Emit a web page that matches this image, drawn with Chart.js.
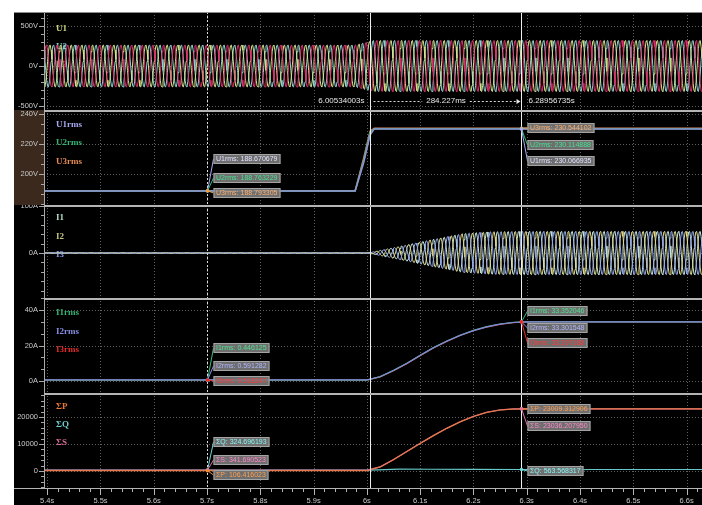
<!DOCTYPE html>
<html lang="en">
<head>
    <meta charset="UTF-8">
    <title>Recorder - voltage step</title>
    <script src="https://cdn.jsdelivr.net/npm/chart.js"></script>
    <style>
        body {
            margin: 0;
            background: #fff;
            width: 702px;
            height: 505px;
            overflow: hidden;
            position: relative;
        }
        .scope {
            position: absolute;
            left: 14px;
            top: 12px;
            width: 688px;
            height: 493px;
            background: #000;
        }
        .panel {
            position: absolute;
            left: 0;
        }
        canvas {
            display: block;
        }
    </style>
</head>
<body>
<div class="scope">
    <div class="panel" style="top:0"><canvas id="voltChart" width="688" height="98"></canvas></div>
    <div class="panel" style="top:98px"><canvas id="urmsChart" width="688" height="95"></canvas></div>
    <div class="panel" style="top:193px"><canvas id="currChart" width="688" height="93"></canvas></div>
    <div class="panel" style="top:286px"><canvas id="irmsChart" width="688" height="95"></canvas></div>
    <div class="panel" style="top:381px"><canvas id="powerChart" width="688" height="112"></canvas></div>
</div>

<script>
    // time axis (s)
    const xMin = 5.394, xMax = 6.629;
    const timeTicks = [5.4, 5.5, 5.6, 5.7, 5.8, 5.9, 6.0, 6.1, 6.2, 6.3, 6.4, 6.5, 6.6];
    const cursorA = 5.7;
    const cursorStart = 6.00534003;
    const cursorB = 6.28956735;

    // waveforms: peak envelope
    const mainsHz = 50;
    const voltEnvTime = [5.394, 5.978, 6.012, 6.629];
    const voltEnv = [267, 267, 326, 326];
    const currEnvTime = [5.394, 6.005, 6.057, 6.118, 6.18, 6.23, 6.3, 6.629];
    const currEnv = [0.7, 0.7, 13, 28, 42, 46, 47, 47];

    // U rms (V)
    const urmsTime = [5.394, 5.978, 5.994, 6.006, 6.014, 6.629];
    const u1rms = [188.67, 188.67, 207.5, 226.0, 230.07, 230.07];
    const u2rms = [188.72, 188.72, 209.0, 227.5, 230.11, 230.11];
    const u3rms = [188.79, 188.79, 210.5, 228.5, 230.54, 230.54];

    // I rms (A)
    const irmsTime = [5.394, 6.0, 6.025, 6.05, 6.075, 6.1, 6.125, 6.15, 6.175, 6.2, 6.225, 6.25, 6.275, 6.3, 6.629];
    const i1rms = [0.45, 0.45, 2.5, 6.0, 10.0, 14.5, 18.8, 22.5, 25.8, 28.5, 30.6, 32.1, 33.0, 33.35, 33.35];
    const i2rms = [0.59, 0.59, 2.4, 5.9, 9.9, 14.4, 18.7, 22.4, 25.7, 28.4, 30.5, 32.0, 32.95, 33.3, 33.3];
    const i3rms = [0.52, 0.52, 2.3, 5.8, 9.8, 14.3, 18.6, 22.3, 25.6, 28.3, 30.4, 31.9, 32.9, 33.3, 33.3];

    // power sums
    const sumP = [106, 106, 1500, 4200, 7200, 10200, 13100, 15800, 18200, 20200, 21700, 22600, 22950, 23010, 23010];
    const sumS = [342, 342, 1520, 4250, 7250, 10250, 13150, 15850, 18250, 20250, 21750, 22650, 23000, 23036, 23036];
    const sumQTime = [5.394, 6.0, 6.02, 6.06, 6.12, 6.2, 6.29, 6.32, 6.34, 6.36, 6.38, 6.42, 6.629];
    const sumQ = [325, 325, 420, 700, 650, 600, 564, 560, 380, 720, 450, 560, 560];

    // cursor readouts
    const readUA = [188.670679, 188.763229, 188.793305];
    const readUB = [230.066935, 230.114888, 230.544102];
    const readIA = [0.446125, 0.591282, 0.518247];
    const readIB = [33.352046, 33.301548, 33.297188];
    const readPowA = [106.416023, 324.696193, 341.690523];    // P, Q, S
    const readPowB = [23009.312906, 563.568317, 23036.207950];

    const tickFont = { family: 'Liberation Sans', size: 7.5 };

    function series(times, values) {
        return times.map((t, i) => ({ x: t, y: values[i] }));
    }

    function envelopeAt(times, peaks, t) {
        for (let i = 1; i < times.length; i++) {
            if (t <= times[i]) {
                const f = (t - times[i - 1]) / (times[i] - times[i - 1]);
                return peaks[i - 1] + f * (peaks[i] - peaks[i - 1]);
            }
        }
        return peaks[peaks.length - 1];
    }

    // one trace per phase, 12 samples per mains cycle
    function phaseWave(times, peaks, shiftDeg) {
        const perSec = mainsHz * 12;
        const n = Math.round((xMax - xMin) * perSec);
        const pts = [];
        for (let k = 0; k <= n; k++) {
            const t = xMin + k / perSec;
            const a = envelopeAt(times, peaks, t);
            pts.push({ x: t, y: a * Math.sin(2 * Math.PI * mainsHz * t + shiftDeg * Math.PI / 180) });
        }
        return pts;
    }

    function formatTime(v) {
        return (Math.round(v * 10) / 10) + 's';
    }

    function hline(ctx, x1, x2, y) {
        ctx.beginPath(); ctx.moveTo(x1, y); ctx.lineTo(x2, y); ctx.stroke();
    }
    function vline(ctx, x, y1, y2) {
        ctx.beginPath(); ctx.moveTo(x, y1); ctx.lineTo(x, y2); ctx.stroke();
    }

    function drawReadout(ctx, xs, ys, cursorT, r) {
        const cx = Math.round(xs.getPixelForValue(cursorT)) + 0.5;
        const py = ys.getPixelForValue(r.value);
        const text = r.label + ': ' + r.value.toFixed(6);
        ctx.font = '7px "Liberation Sans"';
        const w = Math.ceil(ctx.measureText(text).width) + 5;
        const bx = cx + 6, by = r.top;
        ctx.setLineDash([]);
        ctx.strokeStyle = r.line;
        ctx.lineWidth = 1;
        ctx.beginPath(); ctx.moveTo(cx, py); ctx.lineTo(bx, by + 5); ctx.stroke();
        ctx.fillStyle = 'rgba(122,122,122,0.9)';
        ctx.fillRect(bx, by, w, 10);
        ctx.strokeStyle = '#a4a4a4';
        ctx.strokeRect(bx + 0.5, by + 0.5, w - 1, 9);
        ctx.fillStyle = r.text;
        ctx.textBaseline = 'middle';
        ctx.textAlign = 'left';
        ctx.fillText(text, bx + 2.5, by + 5.5);
        ctx.fillStyle = r.line;
        ctx.beginPath(); ctx.arc(cx, py, 1.8, 0, Math.PI * 2); ctx.fill();
    }

    function scopePlugin(cfg) {
        return {
            id: 'scope_' + cfg.id,
            beforeDraw(chart) {
                const { ctx, width, height, chartArea: a } = chart;
                ctx.save();
                ctx.fillStyle = '#000';
                ctx.fillRect(0, 0, width, height);
                if (cfg.axisFill) {
                    ctx.fillStyle = cfg.axisFill;
                    ctx.fillRect(0, 0, a.left, a.bottom);
                }
                ctx.restore();
            },
            beforeDatasetsDraw(chart) {
                const { ctx, chartArea: a, scales: { x, y } } = chart;
                ctx.save();
                ctx.strokeStyle = '#5e5e5e';
                ctx.lineWidth = 1;
                ctx.setLineDash([1, 2]);
                timeTicks.forEach(t => vline(ctx, Math.round(x.getPixelForValue(t)) + 0.5, a.top, a.bottom));
                cfg.yMajor.forEach(v => hline(ctx, a.left, a.right, Math.round(y.getPixelForValue(v)) + 0.5));
                ctx.setLineDash([]);
                ctx.font = 'bold 9px "Liberation Serif"';
                ctx.textBaseline = 'middle';
                cfg.names.forEach(n => {
                    ctx.fillStyle = n.color;
                    ctx.fillText(n.text, 42, n.y);
                });
                ctx.restore();
            },
            afterDatasetsDraw(chart) {
                const { ctx, chartArea: a, scales: { x, y } } = chart;
                ctx.save();
                // cursors
                ctx.lineWidth = 1;
                ctx.strokeStyle = '#dcdcdc';
                ctx.setLineDash([2, 2]);
                vline(ctx, Math.round(x.getPixelForValue(cursorA)) + 0.5, a.top, a.bottom);
                ctx.setLineDash([]);
                ctx.strokeStyle = '#eeeeee';
                vline(ctx, Math.round(x.getPixelForValue(cursorStart)) + 0.5, a.top, a.bottom);
                vline(ctx, Math.round(x.getPixelForValue(cursorB)) + 0.5, a.top, a.bottom);

                // readout boxes
                (cfg.readA || []).forEach(r => drawReadout(ctx, x, y, cursorA, r));
                (cfg.readB || []).forEach(r => drawReadout(ctx, x, y, cursorB, r));

                // time measurement between cursors
                if (cfg.timeReadout) {
                    const x1 = Math.round(x.getPixelForValue(cursorStart)) + 0.5;
                    const x2 = Math.round(x.getPixelForValue(cursorB)) + 0.5;
                    const ty = cfg.timeReadout;
                    ctx.font = '8px "Liberation Sans"';
                    ctx.fillStyle = '#e8e8e8';
                    ctx.textBaseline = 'middle';
                    ctx.textAlign = 'right';
                    ctx.fillText(cursorStart.toFixed(8) + 's', x1 - 6, ty);
                    ctx.textAlign = 'left';
                    ctx.fillText(cursorB.toFixed(8) + 's', x2 + 7, ty);
                    const mid = (x1 + x2) / 2;
                    const dur = ((cursorB - cursorStart) * 1000).toFixed(3) + 'ms';
                    const tw = ctx.measureText(dur).width;
                    ctx.textAlign = 'center';
                    ctx.fillText(dur, mid, ty);
                    ctx.strokeStyle = '#d8d8d8';
                    ctx.setLineDash([2, 2]);
                    hline(ctx, x1 + 3, mid - tw / 2 - 4, Math.round(ty) + 0.5);
                    hline(ctx, mid + tw / 2 + 4, x2 - 4, Math.round(ty) + 0.5);
                    ctx.setLineDash([]);
                    ctx.fillStyle = '#e8e8e8';
                    ctx.beginPath();
                    ctx.moveTo(x2 - 1, Math.round(ty) + 0.5);
                    ctx.lineTo(x2 - 5, Math.round(ty) - 2);
                    ctx.lineTo(x2 - 5, Math.round(ty) + 3);
                    ctx.closePath();
                    ctx.fill();
                }

                // left axis with major / minor ticks
                ctx.strokeStyle = '#a8a8a8';
                vline(ctx, a.left + 0.5, a.top, a.bottom);
                const first = Math.ceil((y.min - cfg.minorBase) / cfg.minorStep);
                for (let k = first; cfg.minorBase + k * cfg.minorStep <= y.max; k++) {
                    const v = cfg.minorBase + k * cfg.minorStep;
                    const py = Math.round(y.getPixelForValue(v)) + 0.5;
                    hline(ctx, a.left - 3, a.left, py);
                }
                cfg.yMajor.forEach(v => {
                    const py = Math.round(y.getPixelForValue(v)) + 0.5;
                    hline(ctx, a.left - 5, a.left, py);
                });

                // time axis (bottom panel only)
                if (cfg.showTime) {
                    ctx.strokeStyle = '#b4b4b4';
                    hline(ctx, 0, a.right, a.bottom + 0.5);
                    for (let k = 0; timeTicks[0] + k * 0.02 <= xMax; k++) {
                        const px = Math.round(x.getPixelForValue(timeTicks[0] + k * 0.02)) + 0.5;
                        vline(ctx, px, a.bottom, a.bottom + (k % 5 === 0 ? 7 : 4));
                    }
                }

                // panel separator
                if (cfg.topBorder) {
                    ctx.strokeStyle = cfg.topBorder;
                    ctx.lineWidth = cfg.topWidth;
                    hline(ctx, cfg.topFrom, a.right, cfg.topWidth / 2);
                }
                ctx.restore();
            }
        };
    }

    function makePanel(cfg) {
        return new Chart(document.getElementById(cfg.id), {
            type: 'line',
            data: { datasets: cfg.datasets },
            options: {
                responsive: false,
                animation: false,
                devicePixelRatio: 1,
                events: [],
                layout: { padding: 0 },
                plugins: { legend: { display: false }, tooltip: { enabled: false } },
                elements: { point: { radius: 0 }, line: { tension: 0, borderWidth: 1 } },
                scales: {
                    x: {
                        type: 'linear', min: xMin, max: xMax,
                        display: !!cfg.showTime,
                        grid: { display: false, drawTicks: false },
                        border: { display: false },
                        afterBuildTicks: s => { s.ticks = timeTicks.map(v => ({ value: v })); },
                        afterFit: s => { s.height = cfg.showTime ? 17 : 0; s.paddingLeft = 0; s.paddingRight = 0; },
                        ticks: {
                            color: '#c8c8c8', font: tickFont, padding: 8,
                            maxRotation: 0, autoSkip: false,
                            callback: v => formatTime(v)
                        }
                    },
                    y: {
                        type: 'linear', min: cfg.yMin, max: cfg.yMax,
                        grid: { display: false, drawTicks: false },
                        border: { display: false },
                        afterBuildTicks: s => { s.ticks = cfg.yMajor.map(v => ({ value: v })); },
                        afterFit: s => { s.width = 30; s.paddingTop = 0; s.paddingBottom = 0; },
                        ticks: {
                            color: '#c8c8c8', font: tickFont, padding: 6, autoSkip: false,
                            callback: v => v + cfg.unit
                        }
                    }
                }
            },
            plugins: [scopePlugin(cfg)]
        });
    }

    // panel 1: phase voltages
    makePanel({
        id: 'voltChart', yMin: -550, yMax: 675, unit: 'V',
        yMajor: [500, 0, -500], minorBase: 0, minorStep: 100,
        topBorder: '#8c8c8c', topWidth: 1, topFrom: 0,
        timeReadout: 89,
        names: [
            { text: 'U1', color: '#c9d27a', y: 17 },
            { text: 'U2', color: '#7fc9c4', y: 35 },
            { text: 'U3', color: '#e0406e', y: 53 }
        ],
        datasets: [
            { data: phaseWave(voltEnvTime, voltEnv, 120), borderColor: '#e0306e' },
            { data: phaseWave(voltEnvTime, voltEnv, 0), borderColor: '#d4e38a' },
            { data: phaseWave(voltEnvTime, voltEnv, -120), borderColor: '#93d4d4' }
        ]
    });

    // panel 2: U rms
    makePanel({
        id: 'urmsChart', yMin: 179.33, yMax: 242.67, unit: 'V',
        yMajor: [240, 220, 200], minorBase: 180, minorStep: 20 / 3,
        axisFill: '#3a291c',
        topBorder: '#b4b4b4', topWidth: 2, topFrom: 30,
        names: [
            { text: 'U1rms', color: '#a6aaf0', y: 15 },
            { text: 'U2rms', color: '#35b474', y: 33 },
            { text: 'U3rms', color: '#e38a55', y: 52 }
        ],
        readA: [
            { label: 'U1rms', value: readUA[0], top: 44, line: '#a8acf4', text: '#e0e2ff' },
            { label: 'U2rms', value: readUA[1], top: 63, line: '#30c078', text: '#48e090' },
            { label: 'U3rms', value: readUA[2], top: 78, line: '#f0a040', text: '#ffb070' }
        ],
        readB: [
            { label: 'U3rms', value: readUB[2], top: 13, line: '#f0a040', text: '#ffb070' },
            { label: 'U2rms', value: readUB[1], top: 30, line: '#30c078', text: '#48e090' },
            { label: 'U1rms', value: readUB[0], top: 46, line: '#a8acf4', text: '#e0e2ff' }
        ],
        datasets: [
            { data: series(urmsTime, u1rms), borderColor: '#8e92d8', borderWidth: 1.5 },
            { data: series(urmsTime, u2rms), borderColor: '#3aa870', borderWidth: 1.5 },
            { data: series(urmsTime, u3rms), borderColor: '#d8885a', borderWidth: 1.5 }
        ]
    });

    // panel 3: phase currents
    makePanel({
        id: 'currChart', yMin: -95.7, yMax: 102.1, unit: 'A',
        yMajor: [100, 0], minorBase: 0, minorStep: 20,
        topBorder: '#b4b4b4', topWidth: 2, topFrom: 30,
        names: [
            { text: 'I1', color: '#b4dcc8', y: 13 },
            { text: 'I2', color: '#c2c284', y: 32 },
            { text: 'I3', color: '#8898e6', y: 50 }
        ],
        datasets: [
            { data: phaseWave(currEnvTime, currEnv, -120), borderColor: '#94a8ec' },
            { data: phaseWave(currEnvTime, currEnv, 120), borderColor: '#e0d88a' },
            { data: phaseWave(currEnvTime, currEnv, 0), borderColor: '#c4e6e0' }
        ]
    });

    // panel 4: I rms
    makePanel({
        id: 'irmsChart', yMin: -6.76, yMax: 46.76, unit: 'A',
        yMajor: [40, 20, 0], minorBase: 0, minorStep: 20 / 3,
        topBorder: '#b4b4b4', topWidth: 2, topFrom: 30,
        names: [
            { text: 'I1rms', color: '#35b474', y: 15 },
            { text: 'I2rms', color: '#868ee2', y: 34 },
            { text: 'I3rms', color: '#e02a2a', y: 52 }
        ],
        readA: [
            { label: 'I1rms', value: readIA[0], top: 45, line: '#30c078', text: '#50e090' },
            { label: 'I2rms', value: readIA[1], top: 63, line: '#8890e8', text: '#b0b6ff' },
            { label: 'I3rms', value: readIA[2], top: 78, line: '#f02828', text: '#ff3a3a' }
        ],
        readB: [
            { label: 'I1rms', value: readIB[0], top: 8, line: '#30c078', text: '#50e090' },
            { label: 'I2rms', value: readIB[1], top: 25, line: '#8890e8', text: '#b0b6ff' },
            { label: 'I3rms', value: readIB[2], top: 40, line: '#f02828', text: '#ff3a3a' }
        ],
        datasets: [
            { data: series(irmsTime, i2rms), borderColor: '#8088dc', borderWidth: 1.2 },
            { data: series(irmsTime, i1rms), borderColor: '#35a874', borderWidth: 1.2 },
            { data: series(irmsTime, i3rms), borderColor: '#d83030', borderWidth: 1.2 }
        ]
    });

    // panel 5: power sums + time axis
    makePanel({
        id: 'powerChart', yMin: -6296, yMax: 28889, unit: '',
        yMajor: [20000, 10000, 0], minorBase: 0, minorStep: 2000,
        topBorder: '#b4b4b4', topWidth: 2, topFrom: 30,
        showTime: true,
        names: [
            { text: 'ΣP', color: '#e8783a', y: 14 },
            { text: 'ΣQ', color: '#6ecccc', y: 32 },
            { text: 'ΣS', color: '#d46a98', y: 50 }
        ],
        readA: [
            { label: 'ΣQ', value: readPowA[1], top: 44, line: '#70d8d8', text: '#8af4f4' },
            { label: 'ΣS', value: readPowA[2], top: 62, line: '#e070a8', text: '#ff88c8' },
            { label: 'ΣP', value: readPowA[0], top: 77, line: '#f08a30', text: '#ffa050' }
        ],
        readB: [
            { label: 'ΣP', value: readPowB[0], top: 11, line: '#f08a30', text: '#ffa050' },
            { label: 'ΣS', value: readPowB[2], top: 28, line: '#e070a8', text: '#ff88c8' },
            { label: 'ΣQ', value: readPowB[1], top: 73, line: '#70d8d8', text: '#8af4f4' }
        ],
        datasets: [
            { data: series(irmsTime, sumP), borderColor: '#e8784a', borderWidth: 1.2 },
            { data: series(irmsTime, sumS), borderColor: '#d06890', borderWidth: 1.2 },
            { data: series(sumQTime, sumQ), borderColor: '#66c8c8', borderWidth: 1.2 }
        ]
    });
</script>
</body>
</html>
